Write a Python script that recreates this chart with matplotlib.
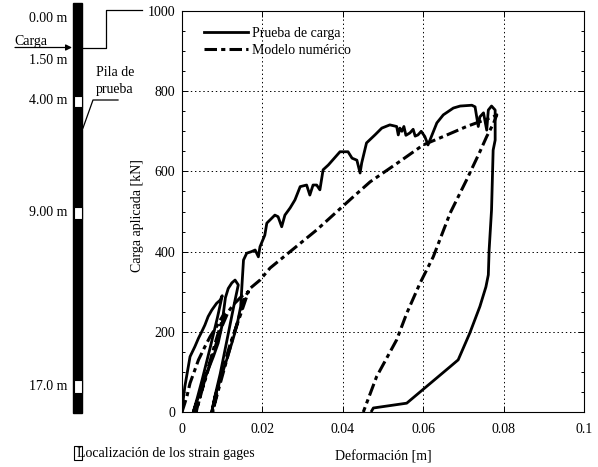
import matplotlib
matplotlib.use("Agg")
import matplotlib.pyplot as plt
import matplotlib.ticker as ticker
from matplotlib.patches import Rectangle

# ── Data ─────────────────────────────────────────────────────────────────────
# Prueba de carga (load test)
test_x = [0.0, 0.0003, 0.0007, 0.0020, 0.0032, 0.0041, 0.0049, 0.0057, 0.0065,
          0.0074, 0.0086, 0.0095, 0.0100,
          0.0088, 0.0070, 0.0050, 0.0038, 0.0028,
          0.0041, 0.0053, 0.0065, 0.0078, 0.0090, 0.0099, 0.0103, 0.0108,
          0.0115, 0.0124, 0.0132, 0.0140,
          0.0128, 0.0112, 0.0095, 0.0082, 0.0074,
          0.0082, 0.0095, 0.0111, 0.0124, 0.0136, 0.0146, 0.0150,
          0.0153, 0.0161, 0.0173, 0.0182, 0.0190, 0.0194, 0.0206, 0.0211,
          0.0231, 0.0239, 0.0248, 0.0256, 0.0269, 0.0281, 0.0294, 0.0310,
          0.0318, 0.0326, 0.0335, 0.0343, 0.0351, 0.0364, 0.0393, 0.0413,
          0.0423, 0.0435, 0.0443, 0.0447, 0.0459, 0.0480, 0.0497, 0.0517,
          0.0534, 0.0538, 0.0542, 0.0547, 0.0552, 0.0557, 0.0567, 0.0575,
          0.0580, 0.0587, 0.0595, 0.0604, 0.0612, 0.0624, 0.0634, 0.0650,
          0.0675, 0.0692, 0.0721, 0.0729, 0.0737, 0.0741, 0.0750, 0.0758,
          0.0762, 0.0770, 0.0779, 0.0779, 0.0774, 0.0770, 0.0764, 0.0762,
          0.0756, 0.0741, 0.0716, 0.0687, 0.0667, 0.0559, 0.0476, 0.0472]
test_y = [0, 30, 63, 138, 163, 184, 200, 217, 238,
          254, 271, 279, 290,
          235, 160, 80, 35, 0,
          38, 72, 105, 138, 172, 213, 247, 285,
          308, 322, 329, 317,
          260, 180, 95, 40, 0,
          38, 80, 130, 172, 213, 263, 330,
          379, 396, 400, 404, 387, 412, 441, 471,
          491, 487, 462, 491, 509, 529, 562, 566,
          541, 566, 566, 554, 604, 616, 649, 649,
          633, 628, 596, 621, 671, 691, 708, 716,
          712, 691, 708, 700, 712, 690, 696, 705,
          688, 691, 700, 687, 666, 696, 721, 741,
          758, 763, 765, 761, 712, 736, 746, 703,
          753, 763, 753, 678, 653, 504, 404, 342,
          312, 263, 197, 130, 113, 22, 10, 3]

# Modelo numérico (numerical model)
model_x = [0.0, 0.0012, 0.0020, 0.0032, 0.0041, 0.0057, 0.0070, 0.0086,
           0.0095, 0.0105,
           0.0085, 0.0065, 0.0048, 0.0035,
           0.0050, 0.0068, 0.0085, 0.0100, 0.0115, 0.0128, 0.0140, 0.0150,
           0.0165,
           0.0144, 0.0120, 0.0098, 0.0086, 0.0076,
           0.0092, 0.0110, 0.0128, 0.0144, 0.0153, 0.0169,
           0.0194, 0.0219, 0.0269, 0.0335, 0.0422, 0.0468, 0.0542, 0.0600,
           0.0650, 0.0708, 0.0741, 0.0774, 0.0783,
           0.0775, 0.0758, 0.0741, 0.0708, 0.0667, 0.0625, 0.0592, 0.0559,
           0.0534, 0.0484, 0.0451]
model_y = [0, 38, 72, 105, 130, 163, 188, 213,
           229, 245,
           180, 110, 50, 0,
           55, 115, 170, 215, 250, 268, 280, 290,
           300,
           238, 170, 95, 45, 0,
           60, 125, 190, 245, 279, 308,
           329, 359, 400, 454, 533, 574, 625, 666,
           687, 712, 724, 736, 741,
           720, 687, 649, 579, 496, 387, 321, 246,
           180, 88, 0]

x_ticks = [0, 0.02, 0.04, 0.06, 0.08, 0.1]
y_ticks = [0, 200, 400, 600, 800, 1000]

# Pile schematic: strain gauge depth labels
gauge_labels = ["0.00 m", "1.50 m", "4.00 m", "9.00 m", "17.0 m"]

# ── Style ────────────────────────────────────────────────────────────────────
FS = 10
plt.rcParams.update({
    "font.family": ["Liberation Serif", "DejaVu Serif"],
    "font.size": FS,
    "lines.scale_dashes": False,
    "axes.linewidth": 0.8,
})

W, H = 598, 467
fig = plt.figure(figsize=(W / 100, H / 100), dpi=100)

# ── Left schematic drawn in pixel coordinates ────────────────────────────────
sk = fig.add_axes([0, 0, 1, 1])
sk.set_xlim(0, W)
sk.set_ylim(H, 0)
sk.axis("off")

sk.add_patch(Rectangle((73, 3), 9, 410, facecolor="black", edgecolor="black"))
for y0, h in [(96, 11), (207, 12), (380, 13)]:
    sk.add_patch(Rectangle((73.5, y0), 8, h, facecolor="white",
                           edgecolor="black", linewidth=0.8))

label_y = [18, 60, 101, 213, 386]
for lab, yy in zip(gauge_labels, label_y):
    sk.text(67, yy, lab, ha="right", va="center")

sk.text(14, 42, "Carga", ha="left", va="center")
sk.annotate("", xy=(72, 47.5), xytext=(15, 47.5),
            arrowprops=dict(arrowstyle="-|>", color="black", lw=0.9,
                            mutation_scale=9, shrinkA=0, shrinkB=0))
sk.plot([83, 106, 106, 142], [47.5, 47.5, 10, 10], color="black", lw=0.9)

sk.text(115, 72, "Pila de", ha="center", va="center")
sk.text(115, 90, "prueba", ha="center", va="center")
sk.plot([118, 93, 83], [100, 100, 128], color="black", lw=0.9)

sk.add_patch(Rectangle((74, 446), 8, 14, facecolor="white",
                       edgecolor="black", linewidth=0.8))
sk.text(77, 454, "Localización de los strain gages", ha="left", va="center")

# ── Main axes ────────────────────────────────────────────────────────────────
ax = fig.add_axes([182 / W, (H - 412) / H, 402 / W, 401 / H])

ax.plot(test_x, test_y, color="black", lw=2.0, solid_joinstyle="round",
        label="Prueba de carga")
ax.plot(model_x, model_y, color="black", lw=2.2,
        linestyle=(0, (9, 3, 3, 3)), label="Modelo numérico")

ax.set_xlim(0, 0.1)
ax.set_ylim(0, 1000)
ax.set_xticks(x_ticks)
ax.set_yticks(y_ticks)
ax.xaxis.set_major_formatter(ticker.FuncFormatter(lambda v, p: f"{v:g}"))
ax.yaxis.set_minor_locator(ticker.MultipleLocator(50))
ax.tick_params(which="both", direction="in", top=True, right=True)
ax.tick_params(which="major", length=4, width=0.7)
ax.tick_params(which="minor", length=2.5, width=0.7)
ax.tick_params(axis="x", pad=8)
ax.tick_params(axis="y", pad=5)

ax.grid(True, which="major", color="black", lw=0.7, linestyle=(0, (1, 2)))

ax.set_xlabel("Deformación [m]")
ax.set_ylabel("Carga aplicada [kN]")
ax.xaxis.set_label_coords(0.5, -0.095)
ax.yaxis.set_label_coords(-0.094, 0.49)

ax.legend(loc="upper left", bbox_to_anchor=(0.04, 0.975), frameon=False,
          handlelength=3.2, handletextpad=0.3, labelspacing=0.3,
          borderaxespad=0)

fig.savefig("out.png", dpi=100, facecolor="white")
